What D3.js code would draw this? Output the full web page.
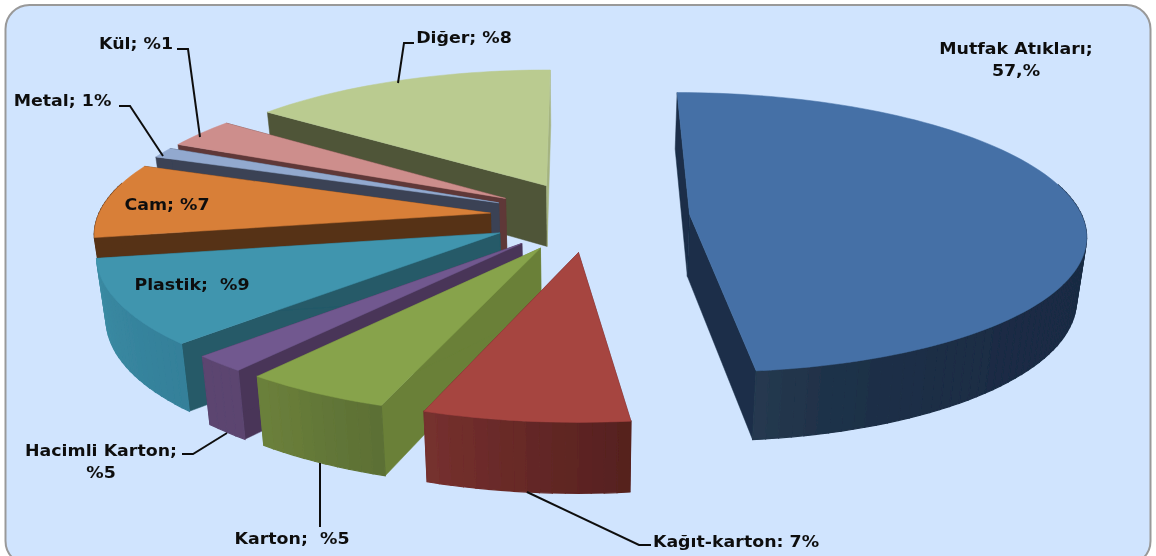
<!DOCTYPE html>
<html><head><meta charset="utf-8">
<script src="https://cdn.jsdelivr.net/npm/d3@7"></script>
<style>html,body{margin:0;padding:0;background:#fff;overflow:hidden}svg{display:block}text{font-family:"DejaVu Sans",sans-serif;font-weight:bold;fill:#111;white-space:pre}</style>
</head><body><div id="chart"></div>
<script>
// --- data ---
const categories = ["Mutfak Atıkları","Kağıt-karton","Karton","Hacimli Karton","Plastik","Cam","Metal","Kül","Diğer"];
const values = [48.2,7.2,5.2,1.9,9.7,8.6,1.2,3.4,14.6];
const labelLines = [["Mutfak Atıkları;","57,%"],["Kağıt-karton: 7%"],["Karton;  %5"],["Hacimli Karton;","%5"],["Plastik;  %9"],["Cam; %7"],["Metal; 1%"],["Kül; %1"],["Diğer; %8"]];
// --- styles ---
const topColors = ["#4570A6","#A64441","#87A34B","#71588F","#4095AE","#D87F39","#92A9CF","#CD8E8C","#BACB90"];
const cutColors = ["#1A2E48","#5A2422","#6A8038","#493659","#255A68","#573317","#3A4255","#5F3837","#4F5538"];
const cutEndColors = ["#1A2E48","#5A2422","#6A8038","#493659","#255A68","#573317","#3A4255","#5F3837","#A4B380"];
const rimStart  = ["#1A2C44","#56211F","#5C7035","#5B4570","#34809A","#573317","#3A4255","#5F3837","#4F5538"];
const rimEnd    = ["#25394F","#75302E","#6B803B","#5B4570","#3B8BA3","#573317","#3A4255","#5F3837","#4F5538"];
const rimPower  = [14,1,1,1,1,1,1,1,1];
// --- layout ---
const W=1156,H=556;
const view={ox:580,oy:215,R:392,a:137.6,p:.128,cx:.025,cy:.01,explode:.255,shrink:.98,depth:62,depthP:.1};
const labelPos=[[1016,54],[736,547],[292,544],[101,456],[192,290],[167,210],[62.5,106],[136,49],[464,43]];
const leaders=[null,[[527,492],[639,545],[651,545]],[[320,463],[320,527]],[[182,454],[193,454],[227,433]],null,null,[[119,106],[130,106],[163,156]],[[177,49],[188,49],[200,137]],[[398,83],[404,43],[414,43]]];

const svg=d3.select("#chart").append("svg").attr("width",W).attr("height",H);
const blur=svg.append("defs").append("filter").attr("id","soft").attr("x","-5%").attr("y","-5%").attr("width","110%").attr("height","110%");
blur.append("feGaussianBlur").attr("stdDeviation",.5);
const root=svg.append("g").attr("filter","url(#soft)");
root.append("rect").attr("x",5.5).attr("y",5).attr("width",1145).attr("height",560).attr("rx",24)
  .attr("fill","#D0E4FE").attr("stroke","#999").attr("stroke-width",2);

const proj=([X,Y])=>{const w=1-view.p*Y;return [view.ox+view.R*X/w,view.oy+view.a*Y/w];};
const low=([X,Y])=>{const [x,y]=proj([X,Y]);return [view.ox+(x-view.ox)*view.shrink,y+view.depth/(1-view.depthP*Y)];};
const line=d3.line();
const pie=d3.pie().sort(null).startAngle(0).endAngle(2*Math.PI);
const arcs=pie(values).map((d,i)=>{
  const mid=(d.startAngle+d.endAngle)/2;
  const ax=view.cx+view.explode*Math.sin(mid), ay=view.cy-view.explode*Math.cos(mid);
  const n=Math.max(2,Math.ceil((d.endAngle-d.startAngle)/0.03));
  const angles=d3.range(n+1).map(k=>d.startAngle+(d.endAngle-d.startAngle)*k/n);
  const rim=angles.map(t=>[ax+Math.sin(t),ay-Math.cos(t)]);
  return {i,apex:[ax,ay],rim,angles,n};
});
const order=arcs.slice().sort((a,b)=>d3.ascending(a.apex[1],b.apex[1]));
const g=root.append("g");
order.forEach(s=>{
  const sg=g.append("g").attr("class","slice");
  const cut=(p,fill)=>sg.append("path").attr("d",line([proj(s.apex),proj(p),low(p),low(s.apex)])+"Z")
     .attr("fill",fill).attr("stroke",fill).attr("stroke-width",.5);
  cut(s.rim[0],cutColors[s.i]);
  cut(s.rim[s.n],cutEndColors[s.i]);
  const col=d3.interpolateRgb(rimStart[s.i],rimEnd[s.i]);
  d3.range(s.n).forEach(k=>{
    if(Math.cos(s.angles[k])>0.2 && Math.cos(s.angles[k+1])>0.2) return; // rim faces away
    const a=s.rim[k],b=s.rim[k+1];const f=col(Math.pow(k/(s.n-1||1),rimPower[s.i]));
    sg.append("path").attr("d",line([proj(a),proj(b),low(b),low(a)])+"Z").attr("fill",f).attr("stroke",f).attr("stroke-width",1.2);
  });
  sg.append("path").attr("d",line([proj(s.apex),...s.rim.map(proj)])+"Z")
    .attr("fill",topColors[s.i]).attr("stroke",topColors[s.i]).attr("stroke-width",.5);
});
leaders.forEach(l=>{ if(l) root.append("path").attr("d",line(l)).attr("fill","none").attr("stroke","#111").attr("stroke-width",2); });
labelLines.forEach((ls,i)=>{
  ls.forEach((s,k)=>root.append("text").attr("text-anchor","middle").attr("font-size",15)
    .attr("transform",`translate(${labelPos[i][0]},${labelPos[i][1]+k*22}) scale(1.16,1)`).text(s));
});
</script></body></html>
